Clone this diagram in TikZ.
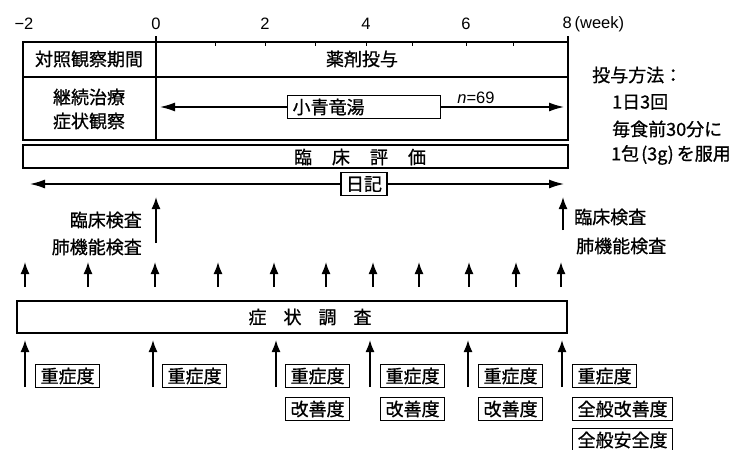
\documentclass[tikz,border=0pt]{standalone}
\usepackage{fontspec}
\setmainfont{Noto Sans CJK JP}[FakeBold=0.8]
\newfontfamily\lat{Liberation Sans}
\usetikzlibrary{arrows.meta}
\begin{document}
\begin{tikzpicture}[x=1pt,y=-1pt,
  font=\fontsize{18}{20}\selectfont,
  frame/.style={draw,line width=1.4pt},
  tick/.style={draw,line width=1pt},
  tag/.style={draw,line width=1.2pt,inner xsep=5pt,inner ysep=0pt,minimum height=23pt,anchor=west},
  uparrow/.style={line width=1.6pt,-{Latex[length=12pt,width=9pt]}},
  harrow/.style={line width=1.3pt,-{Latex[length=15pt,width=9pt]}},
  num/.style={font=\lat\fontsize{16.5}{18}\selectfont,inner sep=0pt}]
\useasboundingbox (0,0) rectangle (737,450);
% axis labels
\node[num] (am2) at (24,24) {−2};
\node[num] (a0) at (156,24) {0};
\node[num] (a2) at (265,24) {2};
\node[num] (a4) at (366,24) {4};
\node[num] (a6) at (466,24) {6};
\node[num,anchor=west] (a8) at (562.5,24) {8\,(week)};
% top table
\draw[frame] (23,42) rectangle (568,140);
\draw[frame] (23,77) -- (568,77);
\draw[frame] (156,36) -- (156,140);
\draw[frame] (568,36) -- (568,42);
\foreach \x in {215,265,315,366,412,466,513} \draw[tick] (\x,42) -- (\x,46);
\node (ctrl) at (89,59) {対照観察期間};
\node (drug) at (362,59) {薬剤投与};
\node (cont) at (89,97) {継続治療};
\node (obs) at (89,121) {症状観察};
\node[tag,text width=143pt,align=left] (sho) at (287,107) {小青竜湯};
\coordinate (shoL) at (160,107);
\coordinate (shoR) at (564,107);
\draw[harrow] (sho.west) -- (shoL);
\draw[harrow] (sho.east) -- (shoR);
\node[num] (nn) at (476,98) {{\itshape n}=69};
% dosage
\node[anchor=west,inner sep=0pt] (dose) at (592,75) {投与方法：};
\node[anchor=west,inner sep=0pt] (d1) at (612,102) {1日3回};
\node[anchor=west,inner sep=0pt] (d2) at (612,129) {毎食前30分に};
\node[anchor=west,inner sep=0pt] (d3) at (611,155) {1包\hspace{2pt}(3g)\hspace{3pt}を服用};
% clinical evaluation
\draw[frame] (23,145) rectangle (568,168);
\node (evaltxt) at (360,157) {臨\hspace{20pt}床\hspace{20pt}評\hspace{20pt}価};
% diary
\node[tag,anchor=center] (diary) at (364,184) {日記};
\coordinate (dL) at (30,184);
\coordinate (dR) at (564,184);
\draw[harrow] (diary.west) -- (dL);
\draw[harrow] (diary.east) -- (dR);
% checkups
\coordinate (c0s) at (156,243);
\coordinate (c0t) at (156,197);
\draw[uparrow] (c0s) -- (c0t);
\coordinate (c8s) at (563,230);
\coordinate (c8t) at (563,197);
\draw[uparrow] (c8s) -- (c8t);
\node[anchor=east,inner sep=0pt] (lab1) at (142,220) {臨床検査};
\node[anchor=east,inner sep=0pt] (lab2) at (142,247) {肺機能検査};
\node[anchor=west,inner sep=0pt] (lab3) at (574,217) {臨床検査};
\node[anchor=west,inner sep=0pt] (lab4) at (576,246) {肺機能検査};
% weekly arrows
\foreach \x [count=\i] in {25,88,155,218,274,326,373,419,469,516,561} {
  \coordinate (ws\i) at (\x,287);
  \coordinate (wt\i) at (\x,262);
  \draw[uparrow] (ws\i) -- (wt\i);
}
% symptom survey
\draw[frame] (17,301) rectangle (567,333);
\node (survtxt) at (310,317) {症\hspace{17pt}状\hspace{17pt}調\hspace{17pt}査};
% survey arrows
\foreach \x [count=\i] in {25,153,276,370,468,562} {
  \coordinate (bs\i) at (\x,387);
  \coordinate (bt\i) at (\x,340);
  \draw[uparrow] (bs\i) -- (bt\i);
}
% tags
\node[tag] (sev1) at (35,376) {重症度};
\node[tag] (sev2) at (162,376) {重症度};
\node[tag] (sev3) at (285,376) {重症度};
\node[tag] (sev4) at (380,376) {重症度};
\node[tag] (sev5) at (478,376) {重症度};
\node[tag] (sev6) at (572,376) {重症度};
\node[tag] (imp3) at (285,409) {改善度};
\node[tag] (imp4) at (380,409) {改善度};
\node[tag] (imp5) at (478,409) {改善度};
\node[tag] (gimp) at (572,409) {全般改善度};
\node[tag] (gsaf) at (572,440) {全般安全度};
\end{tikzpicture}
\end{document}
